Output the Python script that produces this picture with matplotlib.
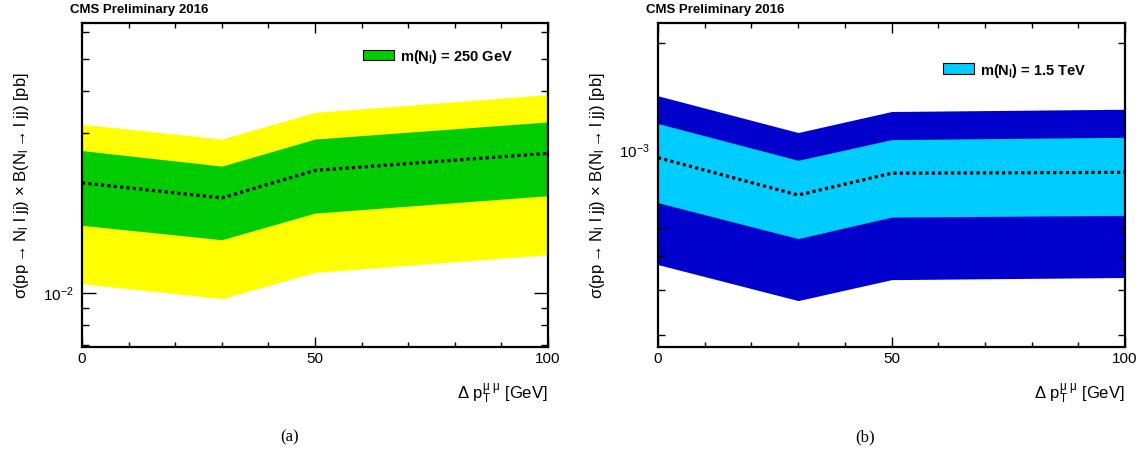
"""
Expected limit bands vs. Delta pT(mu mu) for two heavy neutrino masses.
"""

import matplotlib
matplotlib.use("Agg")
import matplotlib.pyplot as plt
from matplotlib.patches import Patch
from matplotlib.ticker import LogLocator, LogFormatterSciNotation, NullFormatter, MultipleLocator

plt.rcParams["font.family"] = ["Liberation Sans", "DejaVu Sans"]
plt.rcParams["mathtext.default"] = "regular"

# Delta pT cut values [GeV]
dpt = [0, 30, 50, 100]

# m(N) = 250 GeV: expected limit with +-1 and +-2 sigma bands [pb]
exp_250 = [0.0213, 0.0192, 0.0232, 0.0261]
p1_250 = [0.0266, 0.0239, 0.0288, 0.0324]
m1_250 = [0.0159, 0.0144, 0.0173, 0.0195]
p2_250 = [0.0319, 0.0288, 0.0346, 0.0391]
m2_250 = [0.01064, 0.0096, 0.0115, 0.0130]

# m(N) = 1.5 TeV
exp_1500 = [9.47e-4, 7.43e-4, 8.56e-4, 8.61e-4]
p1_1500 = [1.182e-3, 9.31e-4, 1.065e-3, 1.081e-3]
m1_1500 = [7.07e-4, 5.60e-4, 6.44e-4, 6.51e-4]
p2_1500 = [1.415e-3, 1.115e-3, 1.278e-3, 1.297e-3]
m2_1500 = [4.73e-4, 3.745e-4, 4.29e-4, 4.35e-4]

YLABEL = r"σ(pp$\rightarrow$N$_{l}$ l jj) × B(N$_{l}$$\rightarrow$l jj) [pb]"
XLABEL = "Δ p$_T^{μ\\ μ}$ [GeV]"


def draw_panel(ax, exp, p1, m1, p2, m2, c1, c2, label, ylim, leg_pos):
    ax.fill_between(dpt, m2, p2, color=c2, lw=0, zorder=1)
    ax.fill_between(dpt, m1, p1, color=c1, lw=0, zorder=2)
    ax.plot(dpt, exp, color="black", lw=2.3, ls=(0, (1, 1)), zorder=3)

    ax.set_yscale("log")
    ax.set_xlim(0, 100)
    ax.set_ylim(*ylim)

    ax.xaxis.set_major_locator(MultipleLocator(50))
    ax.xaxis.set_minor_locator(MultipleLocator(10))
    ax.yaxis.set_major_locator(LogLocator(base=10))
    ax.yaxis.set_major_formatter(LogFormatterSciNotation())
    ax.yaxis.set_minor_locator(LogLocator(base=10, subs=range(2, 10)))
    ax.yaxis.set_minor_formatter(NullFormatter())

    ax.tick_params(which="both", direction="in", top=True, right=True,
                   width=1, labelsize=11)
    ax.tick_params(axis="x", which="major", length=7, pad=3)
    ax.tick_params(axis="x", which="minor", length=3.5)
    ax.tick_params(axis="y", which="major", length=10, pad=6)
    ax.tick_params(axis="y", which="minor", length=5)
    for sp in ax.spines.values():
        sp.set_linewidth(1.6)

    ax.set_xlabel(XLABEL, fontsize=12, loc="right")
    ax.xaxis.set_label_coords(1.0, -0.105)
    ax.set_ylabel(YLABEL, fontsize=12)
    ax.yaxis.set_label_coords(-0.11, 0.5)

    ax.text(-0.025, 1.025, "CMS Preliminary 2016", transform=ax.transAxes,
            fontsize=9.5, fontweight="bold", ha="left", va="bottom")

    handle = Patch(facecolor=c1, edgecolor="black", linewidth=0.8)
    ax.legend([handle], [label], loc="center left", bbox_to_anchor=leg_pos,
              frameon=False, borderpad=0, borderaxespad=0,
              handlelength=2.1, handleheight=0.75, handletextpad=0.45,
              prop={"size": 10.5, "weight": "bold"})


fig = plt.figure(figsize=(11.48, 4.56), dpi=100)
fig.patch.set_facecolor("white")
ax_a = fig.add_axes([0.0714, 0.2368, 0.406, 0.7105])
ax_b = fig.add_axes([0.5732, 0.2368, 0.4068, 0.7105])

draw_panel(ax_a, exp_250, p1_250, m1_250, p2_250, m2_250,
           "#00cc00", "#ffff00", "m(N$_{l}$) = 250 GeV",
           (0.00688, 0.0640), (0.603, 0.898))
draw_panel(ax_b, exp_1500, p1_1500, m1_1500, p2_1500, m2_1500,
           "#00ccff", "#0000cc", "m(N$_{l}$) = 1.5 TeV",
           (2.77e-4, 2.27e-3), (0.610, 0.856))

fig.text(290 / 1148, 1 - 437 / 456, "(a)", family="Liberation Serif",
         fontsize=12, ha="center", va="center")
fig.text(865 / 1148, 1 - 437 / 456, "(b)", family="Liberation Serif",
         fontsize=12, ha="center", va="center")

fig.savefig("out.png", dpi=100)
